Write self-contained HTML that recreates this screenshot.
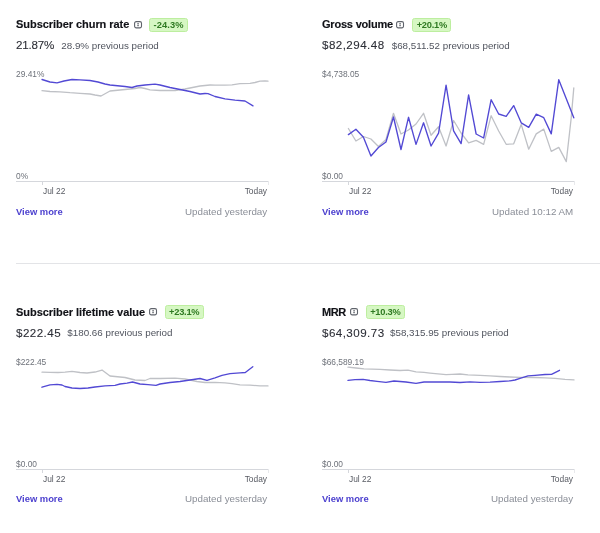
<!DOCTYPE html>
<html><head><meta charset="utf-8"><title>Dashboard</title>
<style>
html,body{margin:0;padding:0;background:#fff;}
body{width:600px;height:533px;position:relative;overflow:hidden;font-family:"Liberation Sans", sans-serif;}
.t{position:absolute;white-space:nowrap;}
#w{position:absolute;left:0;top:0;width:600px;height:533px;will-change:transform;}
.a{position:absolute;}
.badge{position:absolute;height:13.5px;box-sizing:border-box;background:#d6f7c3;border:1px solid #bdee9f;border-radius:2.5px;
  color:#2f7a22;font-weight:700;text-align:center;line-height:12.8px;font-family:"Liberation Sans", sans-serif;}
</style></head><body><div id="w">
<div class="t" style="left:16.00px;top:19.19px;font-size:11px;line-height:11px;color:#111217;font-weight:700;letter-spacing:-0.05px;-webkit-text-stroke:0.15px #111217;">Subscriber churn rate</div>
<svg class="a" style="left:133.6px;top:21.0px" width="9" height="8" viewBox="0 0 9 8"><rect x="0.6" y="0.6" width="6.9" height="6.3" rx="1.6" fill="none" stroke="#5f636b" stroke-width="1.1"/><circle cx="4.05" cy="2.7" r="0.75" fill="#4a4e56"/><rect x="3.4" y="3.85" width="1.3" height="1.4" rx="0.5" fill="#4a4e56"/></svg>
<div class="badge" style="left:149px;top:18px;width:39px;font-size:9.3px;letter-spacing:0.1px">-24.3%</div>
<div class="t" style="left:16.00px;top:38.78px;font-size:11.6px;line-height:11.6px;color:#2c2e36;font-weight:400;letter-spacing:-0.2px;-webkit-text-stroke:0.1px #2c2e36;">21.87%</div>
<div class="t" style="left:61.30px;top:40.70px;font-size:9.8px;line-height:9.8px;color:#50545e;font-weight:400;">28.9% previous period</div>
<div class="t" style="left:16.00px;top:70.39px;font-size:8.4px;line-height:8.4px;color:#6e727a;font-weight:400;">29.41%</div>
<div class="t" style="left:16.00px;top:172.39px;font-size:8.4px;line-height:8.4px;color:#6e727a;font-weight:400;">0%</div>
<div class="a" style="left:16px;top:180.7px;width:252.5px;height:1px;background:#d5d7dc"></div>
<div class="a" style="left:42px;top:181px;width:1px;height:4px;background:#d5d7dc"></div>
<div class="a" style="left:267.5px;top:181px;width:1px;height:4px;background:#e8e9ec"></div>
<div class="t" style="left:43.00px;top:187.09px;font-size:8.4px;line-height:8.4px;color:#585b63;font-weight:400;">Jul 22</div>
<div class="t" style="right:333.00px;top:187.09px;font-size:8.4px;line-height:8.4px;color:#585b63;font-weight:400;">Today</div>
<div class="t" style="left:16.00px;top:206.84px;font-size:9.4px;line-height:9.4px;color:#4d41cf;font-weight:700;">View more</div>
<div class="t" style="right:332.80px;top:206.70px;font-size:9.8px;line-height:9.8px;color:#8a8e97;font-weight:400;">Updated yesterday</div>
<div class="t" style="left:322.00px;top:19.19px;font-size:11px;line-height:11px;color:#111217;font-weight:700;letter-spacing:-0.2px;-webkit-text-stroke:0.15px #111217;">Gross volume</div>
<svg class="a" style="left:396.20000000000005px;top:21.0px" width="9" height="8" viewBox="0 0 9 8"><rect x="0.6" y="0.6" width="6.9" height="6.3" rx="1.6" fill="none" stroke="#5f636b" stroke-width="1.1"/><circle cx="4.05" cy="2.7" r="0.75" fill="#4a4e56"/><rect x="3.4" y="3.85" width="1.3" height="1.4" rx="0.5" fill="#4a4e56"/></svg>
<div class="badge" style="left:412.3px;top:18px;width:39px;font-size:9.3px;letter-spacing:-0.25px">+20.1%</div>
<div class="t" style="left:322.00px;top:38.78px;font-size:11.6px;line-height:11.6px;color:#2c2e36;font-weight:400;letter-spacing:0.45px;-webkit-text-stroke:0.1px #2c2e36;">$82,294.48</div>
<div class="t" style="left:391.70px;top:40.70px;font-size:9.8px;line-height:9.8px;color:#50545e;font-weight:400;">$68,511.52 previous period</div>
<div class="t" style="left:322.00px;top:70.39px;font-size:8.4px;line-height:8.4px;color:#6e727a;font-weight:400;">$4,738.05</div>
<div class="t" style="left:322.00px;top:172.39px;font-size:8.4px;line-height:8.4px;color:#6e727a;font-weight:400;">$0.00</div>
<div class="a" style="left:322px;top:180.7px;width:252.5px;height:1px;background:#d5d7dc"></div>
<div class="a" style="left:348px;top:181px;width:1px;height:4px;background:#d5d7dc"></div>
<div class="a" style="left:573.5px;top:181px;width:1px;height:4px;background:#e8e9ec"></div>
<div class="t" style="left:349.00px;top:187.09px;font-size:8.4px;line-height:8.4px;color:#585b63;font-weight:400;">Jul 22</div>
<div class="t" style="right:27.00px;top:187.09px;font-size:8.4px;line-height:8.4px;color:#585b63;font-weight:400;">Today</div>
<div class="t" style="left:322.00px;top:206.84px;font-size:9.4px;line-height:9.4px;color:#4d41cf;font-weight:700;">View more</div>
<div class="t" style="right:26.80px;top:206.70px;font-size:9.8px;line-height:9.8px;color:#8a8e97;font-weight:400;">Updated 10:12 AM</div>
<div class="t" style="left:16.00px;top:306.59px;font-size:11px;line-height:11px;color:#111217;font-weight:700;letter-spacing:-0.05px;-webkit-text-stroke:0.15px #111217;">Subscriber lifetime value</div>
<svg class="a" style="left:148.9px;top:308.4px" width="9" height="8" viewBox="0 0 9 8"><rect x="0.6" y="0.6" width="6.9" height="6.3" rx="1.6" fill="none" stroke="#5f636b" stroke-width="1.1"/><circle cx="4.05" cy="2.7" r="0.75" fill="#4a4e56"/><rect x="3.4" y="3.85" width="1.3" height="1.4" rx="0.5" fill="#4a4e56"/></svg>
<div class="badge" style="left:165px;top:305.4px;width:38.5px;font-size:9.3px;letter-spacing:-0.25px">+23.1%</div>
<div class="t" style="left:16.00px;top:326.78px;font-size:11.6px;line-height:11.6px;color:#2c2e36;font-weight:400;letter-spacing:0.45px;-webkit-text-stroke:0.1px #2c2e36;">$222.45</div>
<div class="t" style="left:67.30px;top:328.10px;font-size:9.8px;line-height:9.8px;color:#50545e;font-weight:400;">$180.66 previous period</div>
<div class="t" style="left:16.00px;top:357.89px;font-size:8.4px;line-height:8.4px;color:#6e727a;font-weight:400;">$222.45</div>
<div class="t" style="left:16.00px;top:459.89px;font-size:8.4px;line-height:8.4px;color:#6e727a;font-weight:400;">$0.00</div>
<div class="a" style="left:16px;top:468.7px;width:252.5px;height:1px;background:#d5d7dc"></div>
<div class="a" style="left:42px;top:469px;width:1px;height:4px;background:#d5d7dc"></div>
<div class="a" style="left:267.5px;top:469px;width:1px;height:4px;background:#e8e9ec"></div>
<div class="t" style="left:43.00px;top:474.59px;font-size:8.4px;line-height:8.4px;color:#585b63;font-weight:400;">Jul 22</div>
<div class="t" style="right:333.00px;top:474.59px;font-size:8.4px;line-height:8.4px;color:#585b63;font-weight:400;">Today</div>
<div class="t" style="left:16.00px;top:494.34px;font-size:9.4px;line-height:9.4px;color:#4d41cf;font-weight:700;">View more</div>
<div class="t" style="right:332.80px;top:494.20px;font-size:9.8px;line-height:9.8px;color:#8a8e97;font-weight:400;">Updated yesterday</div>
<div class="t" style="left:322.00px;top:306.59px;font-size:11px;line-height:11px;color:#111217;font-weight:700;letter-spacing:-0.4px;-webkit-text-stroke:0.15px #111217;">MRR</div>
<svg class="a" style="left:349.6px;top:308.4px" width="9" height="8" viewBox="0 0 9 8"><rect x="0.6" y="0.6" width="6.9" height="6.3" rx="1.6" fill="none" stroke="#5f636b" stroke-width="1.1"/><circle cx="4.05" cy="2.7" r="0.75" fill="#4a4e56"/><rect x="3.4" y="3.85" width="1.3" height="1.4" rx="0.5" fill="#4a4e56"/></svg>
<div class="badge" style="left:365.7px;top:305.4px;width:39.3px;font-size:9.3px;letter-spacing:-0.25px">+10.3%</div>
<div class="t" style="left:322.00px;top:326.78px;font-size:11.6px;line-height:11.6px;color:#2c2e36;font-weight:400;letter-spacing:0.45px;-webkit-text-stroke:0.1px #2c2e36;">$64,309.73</div>
<div class="t" style="left:390.00px;top:328.10px;font-size:9.8px;line-height:9.8px;color:#50545e;font-weight:400;">$58,315.95 previous period</div>
<div class="t" style="left:322.00px;top:357.89px;font-size:8.4px;line-height:8.4px;color:#6e727a;font-weight:400;">$66,589.19</div>
<div class="t" style="left:322.00px;top:459.89px;font-size:8.4px;line-height:8.4px;color:#6e727a;font-weight:400;">$0.00</div>
<div class="a" style="left:322px;top:468.7px;width:252.5px;height:1px;background:#d5d7dc"></div>
<div class="a" style="left:348px;top:469px;width:1px;height:4px;background:#d5d7dc"></div>
<div class="a" style="left:573.5px;top:469px;width:1px;height:4px;background:#e8e9ec"></div>
<div class="t" style="left:349.00px;top:474.59px;font-size:8.4px;line-height:8.4px;color:#585b63;font-weight:400;">Jul 22</div>
<div class="t" style="right:27.00px;top:474.59px;font-size:8.4px;line-height:8.4px;color:#585b63;font-weight:400;">Today</div>
<div class="t" style="left:322.00px;top:494.34px;font-size:9.4px;line-height:9.4px;color:#4d41cf;font-weight:700;">View more</div>
<div class="t" style="right:26.80px;top:494.20px;font-size:9.8px;line-height:9.8px;color:#8a8e97;font-weight:400;">Updated yesterday</div>
<div class="a" style="left:16px;top:263px;width:584px;height:1px;background:#e3e4e7"></div>
<svg class="a" style="left:0;top:0" width="600" height="533" viewBox="0 0 600 533"><polyline points="42.00,90.70 50.00,91.50 60.00,91.80 70.00,92.70 80.00,93.30 90.00,94.00 95.00,95.00 101.00,96.00 110.00,91.00 115.00,90.50 125.00,89.50 135.00,88.50 140.00,87.50 145.00,88.50 150.00,89.80 160.00,90.50 175.00,90.50 185.00,89.00 190.00,88.00 200.00,86.00 210.00,85.00 215.00,85.10 225.00,85.10 232.00,84.80 240.00,83.70 250.00,83.30 255.00,82.50 260.00,81.10 265.00,80.80 268.00,81.10" fill="none" stroke="#bfc1c6" stroke-width="1.3" stroke-linejoin="round" stroke-linecap="round"/><polyline points="42.00,79.50 50.00,82.00 57.00,82.80 64.00,81.00 72.00,79.50 80.00,79.80 90.00,80.50 98.00,82.00 105.00,84.00 110.00,85.00 115.00,85.50 125.00,86.50 132.00,87.50 137.00,86.00 145.00,85.00 155.00,84.20 160.00,85.00 170.00,87.50 180.00,89.50 190.00,91.50 200.00,94.00 205.00,93.50 208.00,93.60 215.00,96.50 225.00,98.80 235.00,100.20 245.00,101.00 253.00,105.80" fill="none" stroke="#5249d4" stroke-width="1.35" stroke-linejoin="round" stroke-linecap="round"/></svg>
<svg class="a" style="left:0;top:0" width="600" height="533" viewBox="0 0 600 533"><polyline points="348.40,128.50 355.91,141.00 363.43,136.50 370.94,139.00 378.45,146.50 385.97,139.50 393.48,113.30 400.99,134.00 408.51,130.00 416.02,124.00 423.53,113.30 431.05,135.30 438.56,126.80 446.07,146.00 453.59,120.50 461.10,133.00 468.61,142.80 476.13,140.40 483.64,144.40 491.15,115.70 498.67,131.00 506.18,144.30 513.69,143.80 521.21,124.40 528.72,149.20 536.23,133.90 543.75,129.10 551.26,151.40 558.77,147.40 566.29,161.60 571.20,118.00 573.80,87.90" fill="none" stroke="#bfc1c6" stroke-width="1.3" stroke-linejoin="round" stroke-linecap="round"/><polyline points="348.40,134.60 355.91,129.20 363.43,137.30 370.94,156.00 378.45,147.50 385.97,142.00 393.48,117.00 400.99,149.50 408.51,117.30 416.02,144.40 423.53,122.80 431.05,146.00 438.56,133.20 446.07,85.20 453.59,130.80 461.10,143.60 468.61,94.90 476.13,134.00 483.64,138.00 491.15,99.70 498.67,114.00 506.18,116.40 513.69,105.60 521.21,122.80 528.72,127.40 536.23,114.20 543.75,117.70 551.26,133.90 558.77,79.70 566.29,98.80 573.80,117.80" fill="none" stroke="#5249d4" stroke-width="1.35" stroke-linejoin="round" stroke-linecap="round"/></svg>
<svg class="a" style="left:0;top:0" width="600" height="533" viewBox="0 0 600 533"><polyline points="42.00,372.20 50.00,372.40 58.00,372.50 65.00,372.20 72.00,371.40 80.00,372.50 87.00,373.00 95.00,372.00 102.00,370.00 110.00,376.00 115.00,376.50 125.00,377.50 135.00,380.00 145.00,380.50 150.00,378.50 160.00,378.50 175.00,378.20 185.00,379.00 197.00,381.50 205.00,382.50 215.00,382.40 225.00,382.80 232.00,383.60 240.00,384.80 250.00,385.10 260.00,385.90 268.00,385.90" fill="none" stroke="#bfc1c6" stroke-width="1.3" stroke-linejoin="round" stroke-linecap="round"/><polyline points="42.00,387.20 50.00,384.80 57.00,384.30 62.00,385.00 65.00,386.50 72.00,388.00 80.00,388.50 88.00,388.00 95.00,387.00 105.00,385.80 115.00,385.30 120.00,384.00 127.00,383.20 132.50,382.00 140.00,384.00 148.00,384.60 156.00,385.30 160.00,384.00 170.00,382.50 180.00,381.50 190.00,380.00 200.00,378.50 207.00,380.30 215.00,377.80 222.00,375.40 230.00,373.70 240.00,372.90 245.30,372.50 252.80,366.70" fill="none" stroke="#5249d4" stroke-width="1.35" stroke-linejoin="round" stroke-linecap="round"/></svg>
<svg class="a" style="left:0;top:0" width="600" height="533" viewBox="0 0 600 533"><polyline points="348.00,367.20 356.00,368.00 364.00,368.90 372.00,369.10 380.00,369.30 390.00,370.00 400.00,370.50 408.00,370.10 416.00,371.90 424.00,372.40 430.00,373.10 438.00,373.90 446.00,374.70 452.00,374.30 460.00,374.00 468.00,374.80 480.00,375.40 490.00,375.80 500.00,376.50 510.00,377.00 520.00,377.30 535.00,377.50 545.00,377.90 555.00,378.40 565.00,379.30 574.00,379.90" fill="none" stroke="#bfc1c6" stroke-width="1.3" stroke-linejoin="round" stroke-linecap="round"/><polyline points="348.00,380.40 355.00,379.70 363.00,379.30 370.00,380.50 377.00,381.30 386.00,382.40 394.00,381.00 406.00,382.00 416.00,383.40 424.00,382.00 430.00,382.00 450.00,382.00 460.00,382.50 470.00,381.80 480.00,382.40 490.00,382.20 500.00,381.50 510.00,380.80 515.00,380.00 520.00,378.30 528.00,375.80 535.00,375.30 545.00,374.50 551.50,374.40 559.50,370.30" fill="none" stroke="#5249d4" stroke-width="1.35" stroke-linejoin="round" stroke-linecap="round"/></svg>
</div></body></html>
